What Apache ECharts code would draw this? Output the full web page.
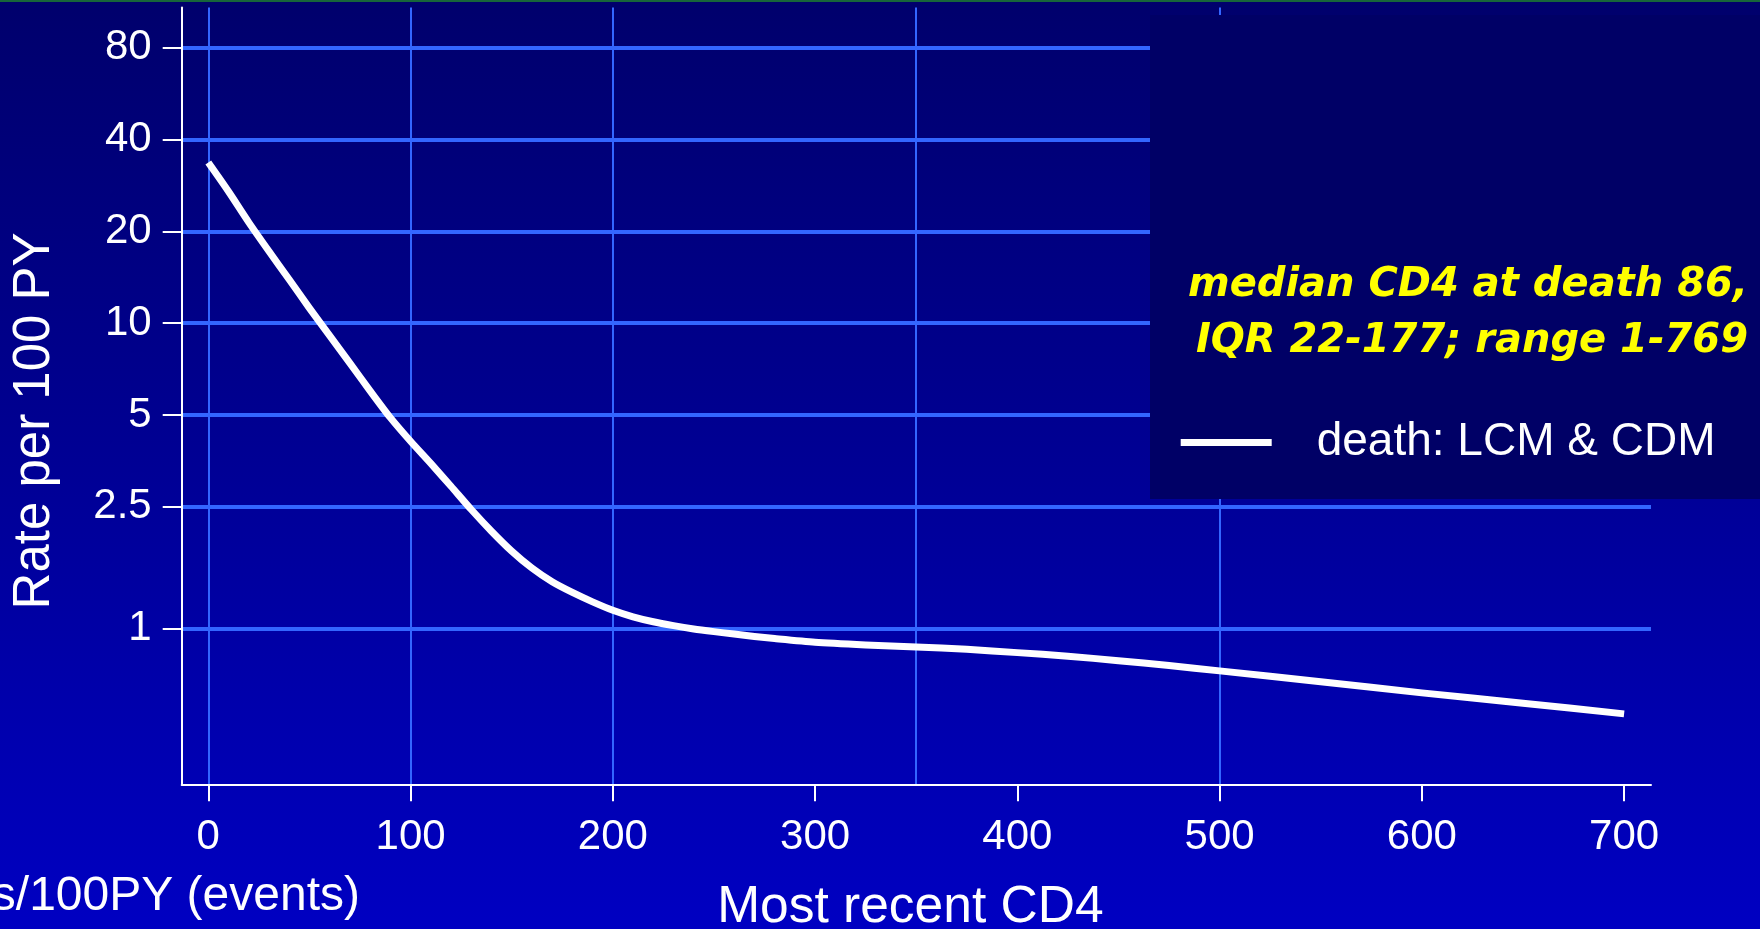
<!DOCTYPE html>
<html><head><meta charset="utf-8">
<script src="https://cdn.jsdelivr.net/npm/echarts@6/dist/echarts.min.js"></script>
<style>
html,body{margin:0;padding:0;width:1760px;height:929px;overflow:hidden;background:linear-gradient(to bottom,#00006c 0%,#000090 45%,#0000c2 100%);}
#c{width:1760px;height:929px;}
</style>
</head><body><div id="c"></div>
<script>
// ---- data ----
const cd4  = [0,10,20,30,40,50,60,70,80,90,100,110,120,130,140,150,160,170,180,190,200,210,220,230,240,250,260,270,280,300,325,350,375,400,425,450,475,500,550,600,650,700];
const rate = [33.6,27.0,21.4,17.2,13.9,11.2,9.1,7.4,6.0,4.9,4.1,3.47,2.92,2.45,2.08,1.79,1.575,1.42,1.31,1.22,1.145,1.09,1.05,1.02,0.995,0.975,0.957,0.94,0.925,0.9,0.882,0.868,0.853,0.832,0.81,0.783,0.755,0.725,0.668,0.614,0.568,0.524];
const xTicks = [0,100,200,300,400,500,600,700];
const xGridValues = [0,100,200,350,500];
const yTicks = [1,2.5,5,10,20,40,80];
const seriesName = 'death: LCM & CDM';
const noteLines = ['median CD4 at death 86,', 'IQR 22-177; range 1-769'];
const xTitle = 'Most recent CD4';
const yTitle = 'Rate per 100 PY';
const footText = 's/100PY (events)';

const FONT = '"Liberation Sans", Arial, sans-serif';
const GRID = '#3366ff';

const chart = echarts.init(document.getElementById('c'), null, {renderer:'canvas'});
chart.setOption({
  backgroundColor: 'transparent',
  animation: false,
  grid: {left: 181.7, right: 109, top: 7.5, bottom: 144.7, containLabel: false, outerBoundsMode: 'none'},
  xAxis: [{
    type: 'value', min: -13.15, max: 713.3,
    axisLine: {show: true, onZero: false, lineStyle: {color: '#fff', width: 2}},
    axisTick: {show: true, length: 17, customValues: xTicks, lineStyle: {color: '#fff', width: 2}},
    axisLabel: {customValues: xTicks, color: '#fff', fontSize: 42, fontFamily: FONT, margin: 32},
    splitLine: {show: false},
    name: xTitle, nameLocation: 'middle', nameGap: 97,
    nameTextStyle: {color: '#fff', fontSize: 51.5, fontFamily: FONT, padding: [0, 12, 0, 0]}
  }, {
    type: 'value', min: -13.15, max: 713.3, position: 'bottom',
    axisLine: {show: false}, axisLabel: {show: false},
    axisTick: {show: false, customValues: xGridValues},
    splitLine: {show: true, lineStyle: {color: GRID, width: 2}}
  }],
  yAxis: {
    type: 'log', logBase: 10, min: 0.308, max: 108.3,
    axisLine: {show: true, onZero: false, lineStyle: {color: '#fff', width: 2}},
    axisTick: {show: true, length: 19, customValues: yTicks, lineStyle: {color: '#fff', width: 2}},
    axisLabel: {customValues: yTicks, color: '#fff', fontSize: 42, fontFamily: FONT, margin: 30,
      padding: [16, 0, 0, 0], formatter: v => String(+(+v).toFixed(2))},
    splitLine: {show: true, lineStyle: {color: GRID, width: 4}},
    name: yTitle, nameLocation: 'middle', nameGap: 121, nameRotate: 90,
    nameTextStyle: {color: '#fff', fontSize: 51, fontFamily: FONT, padding: [0, 50, 0, 0]}
  },
  legend: {
    data: [seriesName], left: 1180.7, top: 419.5, padding: 0, icon: 'rect',
    itemWidth: 91, itemHeight: 7, z: 10,
    itemStyle: {color: '#fff', borderWidth: 0},
    textStyle: {color: '#fff', fontSize: 46, fontFamily: FONT, padding: [0, 0, 0, 40]}
  },
  series: [{
    type: 'line', name: seriesName, xAxisIndex: 0,
    data: cd4.map((x, i) => [x, rate[i]]),
    showSymbol: false, symbol: 'none', smooth: 0.25, clip: false,
    lineStyle: {color: '#fff', width: 7, cap: 'butt', join: 'round'},
    itemStyle: {color: '#fff'}, z: 2
  }],
  graphic: [
    {type: 'rect', shape: {x: 1150, y: 15, width: 610, height: 484}, style: {fill: '#000066'}, z: 3},
    {type: 'text', x: 1748, y: 285.5, z: 10, style: {text: noteLines[0], align: 'right', textAlign: 'right', verticalAlign: 'middle', textVerticalAlign: 'middle',
      font: 'italic bold 40px "DejaVu Sans", sans-serif', fill: '#ffff00'}},
    {type: 'text', x: 1748, y: 341.5, z: 10, style: {text: noteLines[1], align: 'right', textAlign: 'right', verticalAlign: 'middle', textVerticalAlign: 'middle',
      font: 'italic bold 40px "DejaVu Sans", sans-serif', fill: '#ffff00'}},
    {type: 'text', x: 360, y: 896.4, z: 10, style: {text: footText, align: 'right', textAlign: 'right', verticalAlign: 'middle', textVerticalAlign: 'middle',
      font: '48px "Liberation Sans", Arial, sans-serif', fill: '#fff'}},
    {type: 'rect', shape: {x: 0, y: 0, width: 1760, height: 2}, style: {fill: '#17663a'}, z: 20}
  ]
});
</script>
</body></html>
